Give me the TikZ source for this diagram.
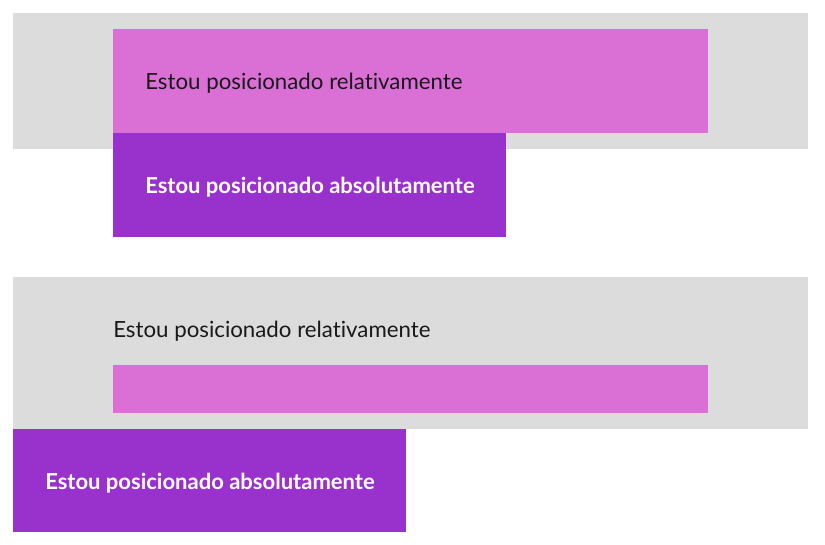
\documentclass[tikz,border=0pt]{standalone}
\usepackage{fontspec}
\setmainfont[Ligatures={NoCommon}]{Lato}
\usetikzlibrary{positioning}
\definecolor{caixa}{HTML}{DCDCDC}
\definecolor{rosa}{HTML}{DA70D6}
\definecolor{roxo}{HTML}{9932CC}
\tikzset{
  relbox/.style={fill=rosa, draw=none},
  absbox/.style={fill=roxo, draw=none},
  reltxt/.style={anchor=west, inner sep=0pt, text=black!90, font=\fontsize{16.7}{20}\selectfont},
  abstxt/.style={anchor=west, inner sep=0pt, text=white, font=\fontsize{16.5}{20}\selectfont\bfseries}
}
\begin{document}
\begin{tikzpicture}[x=0.75pt,y=-0.75pt]
     \useasboundingbox (0,0) rectangle (825,545);
     \fill[white] (0,0) rectangle (825,545);
     % primeiro exemplo
     \fill[caixa] (13,13) rectangle (808,149);
     \fill[relbox] (113,29) rectangle (708,133);
     \fill[absbox] (113,133) rectangle (506,237);
     \node[reltxt] (rel1) at (145,83) {Estou posicionado relativamente};
     \node[abstxt] (abs1) at (145,187) {Estou posicionado absolutamente};
     % segundo exemplo
     \fill[caixa] (13,277) rectangle (808,429);
     \node[reltxt] (rel2) at (113,331) {Estou posicionado relativamente};
     \fill[relbox] (113,365) rectangle (708,413);
     \fill[absbox] (13,429) rectangle (406,532);
     \node[abstxt] (abs2) at (45,483) {Estou posicionado absolutamente};
\end{tikzpicture}
\end{document}
